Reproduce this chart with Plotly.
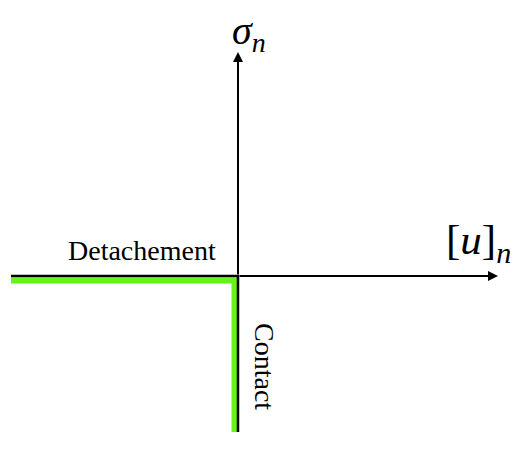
import plotly.graph_objects as go

# Contact law (unilateral contact): detachment branch and contact branch
law_x = [-227, 0, 0]
law_y = [0, 0, -156]
# highlighted (green) law, drawn slightly offset
green_x = [-227, -3.5, -3.5]
green_y = [-4.5, -4.5, -156]

# axis extents (arrow tips)
x_axis_tip = 260
y_axis_tip = 224

labels = ["Detachement", "Contact"]
axis_titles = ["<i>σ</i><sub><i>n</i></sub>", "[<i>u</i>]<sub><i>n</i></sub>"]

fig = go.Figure()
fig.add_trace(go.Scatter(x=green_x, y=green_y, mode="lines",
                         line=dict(color="#62f51c", width=6), hoverinfo="skip"))
fig.add_trace(go.Scatter(x=law_x, y=law_y, mode="lines",
                         line=dict(color="black", width=2.5), hoverinfo="skip"))

# axes arrows
fig.add_annotation(x=x_axis_tip, y=0, ax=0, ay=0, xref="x", yref="y", axref="x", ayref="y",
                   showarrow=True, arrowhead=2, arrowsize=1, arrowwidth=2, arrowcolor="black", text="")
fig.add_annotation(x=0, y=y_axis_tip, ax=0, ay=0, xref="x", yref="y", axref="x", ayref="y",
                   showarrow=True, arrowhead=2, arrowsize=1, arrowwidth=2, arrowcolor="black", text="")

serif = "Liberation Serif, Times New Roman, serif"
fig.add_annotation(x=11, y=243, text=axis_titles[0], showarrow=False,
                   font=dict(family=serif, size=40, color="black"), xanchor="center", yanchor="middle")
fig.add_annotation(x=240, y=33, text=axis_titles[1], showarrow=False,
                   font=dict(family=serif, size=43, color="black"), xanchor="center", yanchor="middle")
fig.add_annotation(x=-96, y=26, text=labels[0], showarrow=False,
                   font=dict(family=serif, size=28, color="black"), xanchor="center", yanchor="middle")
fig.add_annotation(x=27, y=-90, text=labels[1], showarrow=False, textangle=90,
                   font=dict(family=serif, size=28, color="black"), xanchor="center", yanchor="middle")

# page body has an 8px margin: shift the ranges so the picture lands where intended
fig.update_xaxes(range=[-230, 290], visible=False, fixedrange=True)
fig.update_yaxes(range=[-193, 268], visible=False, fixedrange=True)
fig.update_layout(width=520, height=461, margin=dict(l=0, r=0, t=0, b=0),
                  paper_bgcolor="white", plot_bgcolor="white", showlegend=False)
fig.write_html("out.html")
